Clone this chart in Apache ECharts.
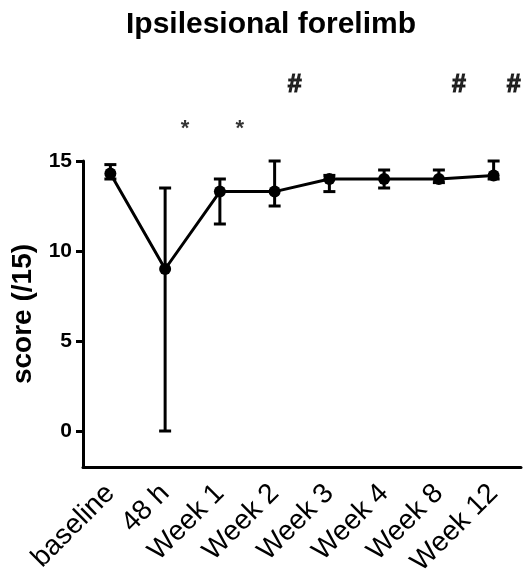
<!DOCTYPE html>
<html>
<head>
<meta charset="utf-8">
<script src="https://cdn.jsdelivr.net/npm/echarts@6/dist/echarts.min.js"></script>
<style>
  html, body { margin: 0; padding: 0; background: #fff; }
  #chart { width: 526px; height: 580px; }
</style>
</head>
<body>
<div id="chart"></div>
<script>
// 数据
var categories = ['baseline', '48 h', 'Week 1', 'Week 2', 'Week 3', 'Week 4', 'Week 8', 'Week 12'];
var means   = [14.3, 9.0, 13.3, 13.3, 14.0, 14.0, 14.0, 14.2];
var errLow  = [14.0, 0.0, 11.5, 12.5, 13.3, 13.5, 13.8, 14.0];
var errHigh = [14.8, 13.5, 14.0, 15.0, 14.2, 14.5, 14.5, 15.0];
var yTicks  = [0, 5, 10, 15];

// significance marks
var starCats = ['48 h', 'Week 1'];
var starLevel = 16.8;
var hashCats = ['Week 2', 'Week 8', 'Week 12'];
var hashLevel = 19.2;

var FONT = 'Liberation Sans, Arial, sans-serif';

var myChart = echarts.init(document.getElementById('chart'));

var errData = categories.map(function (c, i) {
    return [i, errLow[i], errHigh[i]];
});

function renderErr(params, api) {
    var x = api.value(0);
    var lo = api.coord([x, api.value(1)]);
    var hi = api.coord([x, api.value(2)]);
    var half = 6;
    var st = {stroke: '#000', lineWidth: 3};
    return {
        type: 'group',
        children: [
            {type: 'line', shape: {x1: lo[0], y1: lo[1], x2: hi[0], y2: hi[1]}, style: st},
            {type: 'line', shape: {x1: lo[0] - half, y1: lo[1], x2: lo[0] + half, y2: lo[1]}, style: st},
            {type: 'line', shape: {x1: hi[0] - half, y1: hi[1], x2: hi[0] + half, y2: hi[1]}, style: st}
        ]
    };
}

function markSeries(cats, level, text, size, border) {
    return {
        type: 'scatter',
        clip: false,
        symbolSize: 1,
        itemStyle: {color: 'rgba(0,0,0,0)'},
        silent: true,
        data: cats.map(function (c) { return [c, level]; }),
        label: {
            show: true,
            position: 'inside',
            offset: [20, 0],
            formatter: function () { return text; },
            color: '#000',
            fontFamily: FONT,
            fontWeight: 'bold',
            fontSize: size,
            textBorderColor: '#000',
            textBorderWidth: border
        }
    };
}

var option = {
    animation: false,
    backgroundColor: '#fff',
    title: {
        text: 'Ipsilesional forelimb',
        left: 266,
        top: 5,
        textAlign: 'center',
        textStyle: {fontFamily: FONT, fontWeight: 'bold', fontSize: 30, color: '#000'}
    },
    grid: {left: 83, right: 5, top: 161, bottom: 113},
    xAxis: {
        type: 'category',
        data: categories,
        boundaryGap: true,
        axisLine: {onZero: false, lineStyle: {color: '#000', width: 3}},
        axisTick: {alignWithLabel: true, length: 8, lineStyle: {color: '#000', width: 3}},
        axisLabel: {
            rotate: 45,
            margin: 22,
            interval: 0,
            color: '#000',
            fontFamily: FONT,
            fontSize: 28
        }
    },
    yAxis: {
        type: 'value',
        min: -2,
        max: 15,
        name: 'score (/15)',
        nameLocation: 'middle',
        nameGap: 42,
        nameTextStyle: {fontFamily: FONT, fontWeight: 'bold', fontSize: 28, color: '#000'},
        splitLine: {show: false},
        axisLine: {show: true, lineStyle: {color: '#000', width: 3}},
        axisTick: {show: true, length: 7, customValues: yTicks, lineStyle: {color: '#000', width: 3}},
        axisLabel: {
            customValues: yTicks,
            margin: 11,
            color: '#000',
            fontFamily: FONT,
            fontWeight: 'bold',
            fontSize: 21
        }
    },
    series: [
        {
            type: 'line',
            data: means,
            symbol: 'circle',
            symbolSize: 12,
            lineStyle: {color: '#000', width: 3},
            itemStyle: {color: '#000'},
            z: 3
        },
        {
            type: 'custom',
            data: errData,
            renderItem: renderErr,
            z: 2
        },
        markSeries(starCats, starLevel, '*', 22, 0),
        markSeries(hashCats, hashLevel, '#', 25, 1.2)
    ]
};

myChart.setOption(option);
</script>
</body>
</html>
